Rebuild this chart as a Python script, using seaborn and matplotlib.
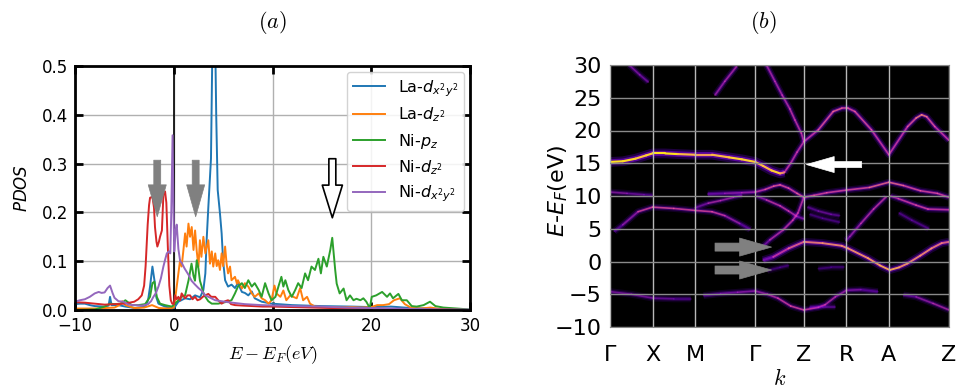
import numpy as np
import pandas as pd
import matplotlib
matplotlib.use("Agg")
import matplotlib.pyplot as plt
import seaborn as sns
from matplotlib.collections import LineCollection

# ---------------- (a) PDOS data: (E - E_F, PDOS) ----------------
la_dx2y2 = [(-10, 0.012), (-9.5, 0.013), (-9, 0.013), (-8.5, 0.01), (-8, 0.008), (-7, 0.007),
            (-6.6, 0.009), (-6.45, 0.027), (-6.3, 0.01), (-5.6, 0.01), (-4.9, 0.007), (-3.9, 0.004),
            (-2.9, 0.007), (-2.6, 0.02), (-2.4, 0.048), (-2.16, 0.089), (-1.95, 0.06), (-1.75, 0.025),
            (-1.55, 0.013), (-0.88, 0.007), (0.0, 0.003), (0.47, 0.017), (1.15, 0.024), (1.65, 0.022),
            (2.16, 0.03), (2.67, 0.026), (3.0, 0.041), (3.2, 0.075), (3.33, 0.143), (3.5, 0.21),
            (3.77, 0.31), (3.95, 0.6), (4.05, 0.65), (4.2, 0.55), (4.3, 0.4), (4.45, 0.246),
            (4.68, 0.198), (4.85, 0.157), (5.0, 0.1), (5.2, 0.061), (5.5, 0.048), (5.85, 0.052),
            (6.2, 0.045), (6.5, 0.055), (6.9, 0.037), (7.2, 0.035), (7.55, 0.03), (7.9, 0.038),
            (8.2, 0.024), (8.9, 0.017), (9.9, 0.013), (12, 0.01), (15, 0.008), (18, 0.007),
            (20, 0.006), (22, 0.007), (24, 0.004), (26, 0.003), (28, 0.001), (30, 0.0)]
la_dz2 = [(-10, 0.003), (-8, 0.003), (-6, 0.005), (-5.5, 0.01), (-5.2, 0.018), (-4.9, 0.01),
          (-4, 0.004), (-3, 0.005), (-2.2, 0.01), (-1.5, 0.004), (-0.5, 0.003), (0.0, 0.005),
          (0.13, 0.02), (0.3, 0.048), (0.47, 0.075), (0.64, 0.102), (0.8, 0.089), (0.98, 0.123),
          (1.15, 0.157), (1.3, 0.13), (1.49, 0.177), (1.65, 0.15), (1.82, 0.17), (2.0, 0.123),
          (2.16, 0.163), (2.33, 0.12), (2.5, 0.089), (2.65, 0.143), (2.8, 0.109), (3.0, 0.15),
          (3.2, 0.116), (3.35, 0.13), (3.5, 0.143), (3.67, 0.095), (3.85, 0.12), (4.0, 0.089),
          (4.2, 0.116), (4.35, 0.09), (4.5, 0.102), (4.68, 0.082), (4.85, 0.116), (5.0, 0.09),
          (5.2, 0.13), (5.35, 0.095), (5.5, 0.075), (5.7, 0.089), (5.85, 0.061), (6.2, 0.068),
          (6.4, 0.054), (6.5, 0.061), (6.9, 0.044), (7.2, 0.055), (7.55, 0.048), (7.9, 0.034),
          (8.2, 0.027), (8.6, 0.034), (8.9, 0.024), (9.25, 0.02), (9.6, 0.013), (9.9, 0.02),
          (10.2, 0.05), (10.4, 0.034), (10.8, 0.027), (11.1, 0.04), (11.4, 0.02), (11.8, 0.03),
          (12.1, 0.027), (12.45, 0.024), (12.8, 0.045), (13.1, 0.02), (13.5, 0.027), (13.8, 0.013),
          (14.3, 0.007), (15, 0.006), (16, 0.006), (17, 0.005), (18, 0.006), (19, 0.005),
          (20, 0.006), (20.6, 0.01), (21.2, 0.01), (21.8, 0.012), (22.3, 0.02), (22.9, 0.024),
          (23.4, 0.012), (24, 0.005), (25, 0.003), (26, 0.005), (27, 0.002), (30, 0.0)]
ni_pz = [(-10, 0.0), (-8, 0.001), (-7.5, 0.004), (-7.0, 0.007), (-6.45, 0.013), (-6.0, 0.012),
         (-5.3, 0.013), (-4.9, 0.02), (-4.25, 0.01), (-3.6, 0.01), (-2.9, 0.012), (-2.4, 0.027),
         (-2.16, 0.055), (-1.96, 0.058), (-1.72, 0.027), (-1.39, 0.013), (-0.88, 0.01), (-0.2, 0.007),
         (0.13, 0.013), (0.47, 0.02), (0.8, 0.027), (1.15, 0.03), (1.5, 0.061), (1.8, 0.095),
         (2.0, 0.07), (2.15, 0.06), (2.33, 0.102), (2.5, 0.085), (2.65, 0.06), (2.8, 0.05),
         (3.0, 0.035), (3.2, 0.027), (3.5, 0.018), (3.85, 0.013), (4.5, 0.013), (5.2, 0.016),
         (5.85, 0.02), (6.2, 0.034), (6.5, 0.048), (6.9, 0.055), (7.2, 0.045), (7.55, 0.061),
         (7.9, 0.048), (8.2, 0.055), (8.6, 0.041), (8.9, 0.027), (9.25, 0.055), (9.6, 0.034),
         (9.9, 0.02), (10.3, 0.027), (10.6, 0.048), (10.9, 0.068), (11.1, 0.048), (11.3, 0.061),
         (11.6, 0.041), (11.95, 0.027), (12.3, 0.041), (12.6, 0.055), (12.95, 0.045), (13.3, 0.075),
         (13.6, 0.061), (13.95, 0.089), (14.3, 0.082), (14.65, 0.105), (14.9, 0.075), (15.15, 0.109),
         (15.5, 0.089), (15.85, 0.123), (16.05, 0.148), (16.35, 0.082), (16.5, 0.054), (16.8, 0.034),
         (17.2, 0.044), (17.5, 0.02), (17.85, 0.03), (18.2, 0.02), (18.5, 0.023), (18.9, 0.02),
         (19.2, 0.024), (19.5, 0.017), (19.85, 0.004), (20.05, 0.027), (20.5, 0.03), (21.1, 0.037),
         (21.6, 0.027), (21.9, 0.034), (22.2, 0.024), (22.75, 0.033), (23.1, 0.02), (23.6, 0.02),
         (24.1, 0.008), (24.6, 0.007), (25.3, 0.01), (25.95, 0.017), (26.5, 0.008), (27.3, 0.005),
         (28.7, 0.003), (30, 0.001)]
ni_dz2 = [(-10, 0.016), (-9, 0.015), (-8, 0.013), (-7, 0.011), (-6, 0.012), (-5, 0.013),
          (-4.5, 0.015), (-4, 0.017), (-3.6, 0.022), (-3.24, 0.03), (-3.0, 0.05), (-2.85, 0.09),
          (-2.64, 0.175), (-2.5, 0.215), (-2.4, 0.23), (-2.16, 0.232), (-2.0, 0.21), (-1.9, 0.17),
          (-1.75, 0.14), (-1.66, 0.13), (-1.5, 0.14), (-1.39, 0.15), (-1.2, 0.163), (-1.05, 0.235),
          (-0.88, 0.243), (-0.75, 0.22), (-0.6, 0.13), (-0.45, 0.05), (-0.3, 0.02), (-0.15, 0.013),
          (0.0, 0.012), (0.13, 0.03), (0.3, 0.022), (0.47, 0.027), (0.65, 0.02), (0.8, 0.034),
          (1.0, 0.028), (1.15, 0.024), (1.4, 0.03), (1.65, 0.03), (1.9, 0.022), (2.16, 0.027),
          (2.4, 0.02), (2.67, 0.022), (3.0, 0.028), (3.5, 0.033), (3.8, 0.027), (4.2, 0.027),
          (4.5, 0.02), (4.85, 0.013), (5.2, 0.018), (5.5, 0.02), (5.8, 0.012), (6.2, 0.01),
          (7, 0.009), (8, 0.008), (9, 0.007), (10, 0.007), (12, 0.006), (14, 0.005), (16, 0.004),
          (18, 0.004), (20, 0.003), (22, 0.002), (24, 0.002), (26, 0.001), (28, 0.001), (30, 0.0)]
ni_dx2y2 = [(-10, 0.017), (-9.5, 0.02), (-9, 0.022), (-8.5, 0.027), (-8, 0.034), (-7.6, 0.037),
            (-7.3, 0.035), (-7.0, 0.036), (-6.7, 0.045), (-6.45, 0.05), (-6.2, 0.035), (-6.0, 0.025),
            (-5.6, 0.018), (-5.1, 0.017), (-4.6, 0.011), (-4.0, 0.01), (-3.2, 0.009), (-2.6, 0.012),
            (-2.3, 0.018), (-2.06, 0.027), (-1.8, 0.035), (-1.55, 0.048), (-1.3, 0.065), (-1.05, 0.089),
            (-0.85, 0.105), (-0.7, 0.116), (-0.5, 0.12), (-0.35, 0.116), (-0.25, 0.2), (-0.12, 0.358),
            (-0.02, 0.2), (0.05, 0.12), (0.2, 0.165), (0.3, 0.175), (0.47, 0.125), (0.65, 0.1),
            (0.8, 0.097), (1.1, 0.085), (1.5, 0.072), (1.8, 0.06), (2.16, 0.052), (2.5, 0.045),
            (2.8, 0.04), (3.2, 0.03), (3.7, 0.025), (4.2, 0.02), (5.5, 0.016), (7.2, 0.012),
            (8.9, 0.01), (10.6, 0.009), (12.3, 0.008), (15, 0.007), (17.5, 0.005), (20, 0.004),
            (22.5, 0.003), (25, 0.002), (27.5, 0.001), (30, 0.001)]

orbital_labels = ["La-$d_{x^2y^2}$", "La-$d_{z^2}$", "Ni-$p_z$", "Ni-$d_{z^2}$", "Ni-$d_{x^2y^2}$"]
pdos_series = [la_dx2y2, la_dz2, ni_pz, ni_dz2, ni_dx2y2]

# ---------------- (b) band structure data: (k, E - E_F, intensity) ----------------
k_ticks = [0.0, 1.0, 2.0, 3.414, 4.56, 5.56, 6.56, 7.974]
k_labels = ["Γ", "X", "M", "Γ", "Z", "R", "A", "Z"]

band_flat15 = [(0.0, 15.2, 0.9), (0.3, 15.3, 0.95), (0.6, 15.7, 0.85), (0.85, 16.2, 0.85), (1.0, 16.5, 0.9),
               (1.3, 16.5, 0.95), (1.6, 16.4, 0.9), (2.0, 16.3, 0.75), (2.4, 16.3, 0.8), (2.8, 15.9, 0.85),
               (3.1, 15.6, 0.9), (3.414, 15.2, 0.85), (3.6, 14.6, 0.8), (3.8, 13.9, 0.85), (4.0, 13.45, 0.9),
               (4.1, 13.6, 0.6)]
band_steep_up = [(4.1, 13.6, 0.5), (4.25, 15.0, 0.45), (4.4, 16.7, 0.45), (4.56, 18.3, 0.45)]
band_steep_top = [(3.68, 30.0, 0.4), (3.88, 27.5, 0.4), (4.05, 25.4, 0.4), (4.23, 23.3, 0.45),
                  (4.35, 21.6, 0.45), (4.5, 19.6, 0.45), (4.56, 18.3, 0.45)]
band_hump = [(4.56, 18.3, 0.45), (4.9, 20.1, 0.5), (5.25, 22.9, 0.6), (5.45, 23.4, 0.55), (5.6, 23.4, 0.5),
             (5.76, 22.9, 0.55), (6.15, 20.1, 0.5), (6.56, 16.3, 0.45), (7.0, 20.6, 0.5), (7.2, 21.9, 0.6),
             (7.33, 22.4, 0.7), (7.45, 22.1, 0.6), (7.64, 20.6, 0.5), (7.974, 18.5, 0.45)]
band_top_left = [(0.45, 30.0, 0.3), (0.7, 28.5, 0.3), (0.9, 27.4, 0.25)]
band_top_mid = [(2.47, 25.4, 0.35), (2.7, 27.5, 0.4), (2.98, 29.8, 0.4)]
band_10_left = [(0.0, 10.6, 0.35), (0.4, 10.4, 0.3), (0.8, 10.2, 0.2), (1.0, 10.1, 0.1)]
band_10 = [(2.3, 10.3, 0.15), (2.7, 10.4, 0.3), (3.1, 10.5, 0.35), (3.414, 10.6, 0.4), (3.65, 11.0, 0.5),
           (3.85, 11.5, 0.55), (4.0, 11.7, 0.55), (4.2, 11.2, 0.5), (4.4, 10.4, 0.5), (4.56, 9.8, 0.6),
           (4.8, 10.1, 0.5), (5.1, 10.5, 0.5), (5.56, 10.9, 0.5), (6.1, 11.3, 0.55), (6.56, 12.1, 0.65),
           (6.9, 11.6, 0.55), (7.3, 10.8, 0.5), (7.7, 10.4, 0.5), (7.974, 9.8, 0.5)]
band_9 = [(2.0, 8.2, 0.15), (2.31, 8.9, 0.4), (2.6, 9.3, 0.4), (2.9, 9.8, 0.35), (3.1, 10.1, 0.25)]
band_8 = [(0.1, 4.6, 0.1), (0.3, 5.6, 0.25), (0.66, 7.6, 0.45), (1.0, 8.3, 0.55), (1.5, 8.1, 0.5),
          (2.0, 7.8, 0.5), (2.4, 7.6, 0.5), (2.7, 7.0, 0.45), (3.05, 5.8, 0.3), (3.3, 4.9, 0.1)]
band_j = [(3.45, 10.0, 0.2), (3.68, 9.4, 0.45), (4.0, 8.5, 0.45), (4.2, 7.7, 0.45), (4.39, 6.9, 0.4),
          (4.56, 6.5, 0.2)]
band_j2 = [(4.65, 8.3, 0.15), (4.9, 7.7, 0.25), (5.2, 7.2, 0.25), (5.4, 7.0, 0.15)]
band_j3 = [(4.7, 7.2, 0.1), (5.0, 6.6, 0.15), (5.4, 6.0, 0.15)]
band_steep_low = [(3.55, 2.0, 0.15), (3.76, 3.3, 0.4), (4.07, 4.8, 0.45), (4.3, 6.3, 0.45),
                  (4.42, 7.4, 0.45), (4.56, 9.8, 0.45)]
band_3 = [(3.6, 0.2, 0.15), (3.84, 0.7, 0.4), (4.2, 2.0, 0.55), (4.56, 3.0, 0.65), (5.0, 2.8, 0.7),
          (5.45, 2.4, 0.7), (5.6, 2.0, 0.7), (6.07, 0.5, 0.75), (6.35, -0.6, 0.75), (6.58, -1.3, 0.8),
          (6.8, -0.9, 0.75), (7.0, -0.3, 0.7), (7.3, 0.9, 0.7), (7.56, 2.0, 0.7), (7.8, 2.8, 0.65),
          (7.974, 3.0, 0.6)]
band_smear = [(5.9, -1.8, 0.15), (6.2, -1.8, 0.35), (6.56, -1.6, 0.45), (6.9, -1.8, 0.35), (7.3, -1.9, 0.15)]
band_steep_r = [(5.55, 3.2, 0.2), (5.64, 3.8, 0.35), (5.9, 5.8, 0.4), (6.2, 8.0, 0.45), (6.5, 9.9, 0.45)]
band_n = [(6.6, 10.0, 0.35), (6.78, 9.6, 0.45), (7.2, 8.6, 0.5), (7.48, 8.0, 0.5), (7.974, 7.9, 0.45)]
band_n2 = [(6.8, 7.4, 0.15), (7.1, 6.3, 0.2), (7.5, 5.0, 0.15)]
band_m5_left = [(0.0, -4.6, 0.3), (0.5, -5.0, 0.3), (1.02, -5.6, 0.3), (1.5, -5.7, 0.2), (1.9, -5.7, 0.1)]
band_m5 = [(2.2, -5.2, 0.1), (2.6, -4.9, 0.25), (3.0, -4.7, 0.3), (3.414, -4.5, 0.35), (3.7, -5.0, 0.4),
           (3.95, -5.6, 0.45), (4.25, -6.8, 0.5), (4.56, -7.4, 0.5), (4.9, -7.0, 0.45), (5.06, -6.6, 0.45),
           (5.3, -5.4, 0.4), (5.56, -4.4, 0.35), (5.9, -4.3, 0.25), (6.3, -4.6, 0.1)]
band_m5b = [(4.7, -7.0, 0.2), (5.0, -6.9, 0.25), (5.3, -6.9, 0.2)]
band_m5_right = [(6.9, -5.1, 0.1), (7.2, -5.4, 0.3), (7.6, -6.4, 0.4), (7.974, -7.4, 0.4)]
band_faint1 = [(3.7, -1.4, 0.1), (4.0, -0.9, 0.15), (4.2, -0.6, 0.1)]
band_faint2 = [(4.9, -1.1, 0.1), (5.2, -0.9, 0.12), (5.5, -0.9, 0.1)]

bands = [band_flat15, band_steep_up, band_steep_top, band_hump, band_top_left, band_top_mid,
         band_10_left, band_10, band_9, band_8, band_j, band_j2, band_j3, band_steep_low, band_3,
         band_steep_r, band_n, band_n2, band_m5_left, band_m5, band_m5b, band_m5_right,
         band_faint1, band_faint2]

# ---------------- figure ----------------
fig = plt.figure(figsize=(9.59, 3.89), dpi=100)
ax1 = fig.add_axes([75 / 959, 79 / 389, 395 / 959, 244 / 389])
ax2 = fig.add_axes([610 / 959, 62 / 389, 339 / 959, 262 / 389])

# ----- panel (a)
rows = []
for lab, pts in zip(orbital_labels, pdos_series):
    for x, y in pts:
        rows.append((lab, x, y))
df = pd.DataFrame(rows, columns=["orbital", "E", "PDOS"])
palette = sns.color_palette("tab10", 5)
ax1.grid(True, color="#b0b0b0", lw=1.0, zorder=0)
ax1.set_axisbelow(True)
ax1.axvline(0, color="black", lw=1.2, zorder=1)
sns.lineplot(data=df, x="E", y="PDOS", hue="orbital", hue_order=orbital_labels, palette=palette,
             estimator=None, sort=False, lw=1.4, ax=ax1, legend=True)
leg = ax1.legend(loc="upper right", fontsize=11.5, frameon=True, framealpha=0.85, edgecolor="#cccccc",
                 handlelength=2.0, borderaxespad=0.35, labelspacing=0.45)
ax1.set_xlim(-10, 30)
ax1.set_ylim(0, 0.5)
ax1.set_xticks([-10, 0, 10, 20, 30])
ax1.set_yticks([0.0, 0.1, 0.2, 0.3, 0.4, 0.5])
ax1.set_yticklabels(["0.0", "0.1", "0.2", "0.3", "0.4", "0.5"])
ax1.tick_params(direction="in", length=6, width=2, top=True, right=True, labelsize=12, pad=5)
for s in ax1.spines.values():
    s.set_linewidth(2)
ax1.set_xlabel("$E-E_F(eV)$", fontsize=13, math_fontfamily="cm", labelpad=6)
ax1.set_ylabel("$PDOS$", fontsize=12, labelpad=8)

arrow_gray = "simple,head_width=1.3,head_length=2.3,tail_width=0.5"
for xa in [-1.67, 2.22]:
    ax1.annotate("", xy=(xa, 0.191), xytext=(xa, 0.307),
                 arrowprops=dict(arrowstyle=arrow_gray, fc="#808080", ec="#808080", lw=0.5,
                                 shrinkA=0, shrinkB=0, mutation_scale=10), zorder=5)
ax1.annotate("", xy=(16.06, 0.189), xytext=(16.06, 0.31),
             arrowprops=dict(arrowstyle="simple,head_width=1.45,head_length=2.35,tail_width=0.5",
                             fc="white", ec="black", lw=1.2, shrinkA=0, shrinkB=0, mutation_scale=10),
             zorder=5)

# ----- panel (b)
ax2.set_facecolor("black")
cmap = plt.get_cmap("gnuplot2")


def glow(ax, pts, spread=1.0):
    k = np.array([p[0] for p in pts])
    e = np.array([p[1] for p in pts])
    w = np.array([p[2] for p in pts])
    m = w.mean()
    ax.plot(k, e, color=cmap(0.40), lw=5 * spread, alpha=0.06 + 0.22 * m, solid_capstyle="butt", zorder=1)
    ax.plot(k, e, color=cmap(0.43), lw=2.8 * spread, alpha=0.12 + 0.45 * m, solid_capstyle="butt", zorder=1.1)
    segs = np.stack([np.column_stack([k[:-1], e[:-1]]), np.column_stack([k[1:], e[1:]])], axis=1)
    iw = (w[:-1] + w[1:]) / 2
    cols = cmap(np.clip(0.40 + 0.52 * iw ** 1.5, 0, 1))
    cols[:, 3] = np.clip(0.15 + 1.0 * iw, 0, 1)
    ax.add_collection(LineCollection(segs, colors=cols, linewidths=1.2 * min(spread, 1.3), zorder=1.2,
                                     capstyle="round"))


spreads = {id(band_flat15): 1.4, id(band_3): 1.15, id(band_smear): 2.2}
for b in bands:
    glow(ax2, b, spread=spreads.get(id(b), 1.0))

ax2.set_xlim(k_ticks[0], k_ticks[-1])
ax2.set_ylim(-10, 30)
ax2.set_xticks(k_ticks)
ax2.set_xticklabels(k_labels)
ax2.set_yticks(np.arange(-10, 31, 5))
ax2.tick_params(length=0, labelsize=16, pad=6)
ax2.tick_params(axis="x", pad=13)
ax2.set_axisbelow(False)
ax2.xaxis.grid(True, color="#b8b8b8", lw=1.0)
ax2.yaxis.grid(True, color="#8a8a8a", lw=1.0)
for s in ax2.spines.values():
    s.set_color("#888888")
    s.set_linewidth(0.8)
ax2.set_ylabel("$E$-$E_F$(eV)", fontsize=16)
ax2.yaxis.set_label_coords(-0.118, 0.52)
ax2.set_xlabel("$k$", fontsize=16, math_fontfamily="cm", labelpad=2)

for ea in [2.2, -1.3]:
    ax2.annotate("", xy=(3.8, ea), xytext=(2.47, ea),
                 arrowprops=dict(arrowstyle="simple,head_width=1.3,head_length=2.3,tail_width=0.58",
                                 fc="#808080", ec="#808080", lw=0.5, shrinkA=0, shrinkB=0,
                                 mutation_scale=10), zorder=6)
ax2.annotate("", xy=(4.62, 14.8), xytext=(5.92, 14.8),
             arrowprops=dict(arrowstyle="simple,head_width=1.15,head_length=2.0,tail_width=0.43",
                             fc="white", ec="white", lw=0.5, shrinkA=0, shrinkB=0, mutation_scale=10),
             zorder=6)

fig.text(272 / 959, 1 - 23 / 389, "$(a)$", fontsize=16, math_fontfamily="cm", ha="center", va="center")
fig.text(763 / 959, 1 - 23 / 389, "$(b)$", fontsize=16, math_fontfamily="cm", ha="center", va="center")

fig.savefig("out.png", dpi=100)
